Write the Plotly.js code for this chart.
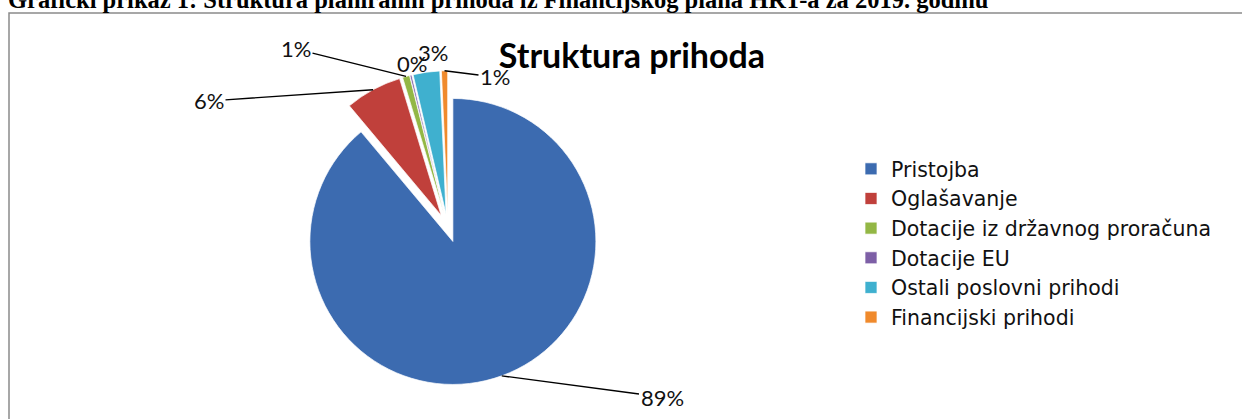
<!DOCTYPE html>
<html><head><meta charset="utf-8">
<script src="https://cdn.plot.ly/plotly-3.0.1.min.js"></script>
<style>html,body{margin:0;padding:0;background:#fff}#chart{width:1242px;height:419px}</style>
</head><body><div id="chart"></div>
<script>
// ---- data ----
const categories = ['Pristojba', 'Oglašavanje', 'Dotacije iz državnog proračuna', 'Dotacije EU', 'Ostali poslovni prihodi', 'Financijski prihodi'];
const shares = [88.9, 6.4, 0.8, 0.2, 3.0, 0.7];
const chartTitle = 'Struktura prihoda';
const heading = 'Grafički prikaz 1: Struktura planiranih prihoda iz Financijskog plana HRT-a za 2019. godinu';

// ---- styles / layout ----
const colors = ['#3c6bb0', '#c0403b', '#93b745', '#7d5fa6', '#3fb0cf', '#f08a2c'];
const W = 1242, H = 419;
const pie = {cx: 448, cy: 228, r: 143, pull: 0.1};
const labelPos = [[662, 397], [209, 101], [296, 49], [412, 63], [433, 53], [495, 77]];
const labelLine = [true, true, true, false, false, true];
const labelFont = {family: 'Lato, "Open Sans", sans-serif', size: 22, color: '#111'};

const half = pie.r * (1 + pie.pull);
const total = shares.reduce((a, b) => a + b, 0);
let cum = 0;
const annotations = shares.map((v, i) => {
  const mid = (cum + v / 2) / total * 2 * Math.PI; cum += v;
  const dx = Math.sin(mid), dy = -Math.cos(mid);
  const rr = pie.r * (1 + pie.pull);
  const ex = pie.cx + dx * rr, ey = pie.cy + dy * rr;
  const txt = Math.round(v / total * 100) + '%';
  const tipX = labelLine[i] ? ex : labelPos[i][0];
  const tipY = labelLine[i] ? ey : labelPos[i][1];
  return {xref: 'paper', yref: 'paper', x: tipX / W, y: 1 - tipY / H, text: txt, showarrow: true,
    arrowhead: 0, arrowwidth: 1.4, arrowcolor: labelLine[i] ? '#000' : 'rgba(0,0,0,0)',
    ax: labelPos[i][0] - tipX, ay: labelPos[i][1] - tipY, font: labelFont};
});
annotations.push({xref: 'paper', yref: 'paper', x: 6 / W, y: 1 - 15 / H, xanchor: 'left', yanchor: 'bottom',
  text: '<b>' + heading + '</b>', showarrow: false,
  font: {family: '"Liberation Serif", "Times New Roman", serif', size: 24.5, color: '#000'}});

const trace = {
  type: 'pie', labels: categories, values: shares, sort: false, direction: 'clockwise', rotation: 0,
  pull: 0.1, textinfo: 'none', hoverinfo: 'label+percent',
  marker: {colors: colors, line: {color: 'rgba(255,255,255,0.7)', width: 1}},
  domain: {x: [(pie.cx - half) / W, (pie.cx + half) / W], y: [1 - (pie.cy + half) / H, 1 - (pie.cy - half) / H]}
};

const layout = {
  width: W, height: H, margin: {l: 0, r: 0, t: 0, b: 0},
  paper_bgcolor: '#fff',
  title: {text: '<b>' + chartTitle + '</b>', x: 632 / W, y: 1 - 56 / H, xanchor: 'center', yanchor: 'middle',
    font: {family: 'Lato, "Open Sans", sans-serif', size: 34, color: '#000'}},
  showlegend: true,
  legend: {x: 851 / W, y: 1 - 149 / H, xanchor: 'left', yanchor: 'top',
    font: {family: '"DejaVu Sans", "Open Sans", sans-serif', size: 20.5, color: '#111'}, bgcolor: 'rgba(0,0,0,0)'},
  annotations: annotations,
  shapes: [{type: 'rect', xref: 'paper', yref: 'paper', x0: 9 / W, x1: (W + 6) / W, y0: -0.02, y1: 1 - 13 / H,
    line: {color: '#8a8a8a', width: 1.5}, fillcolor: 'rgba(0,0,0,0)'}]
};

Plotly.newPlot('chart', [trace], layout, {displayModeBar: false, staticPlot: true});
</script></body></html>
